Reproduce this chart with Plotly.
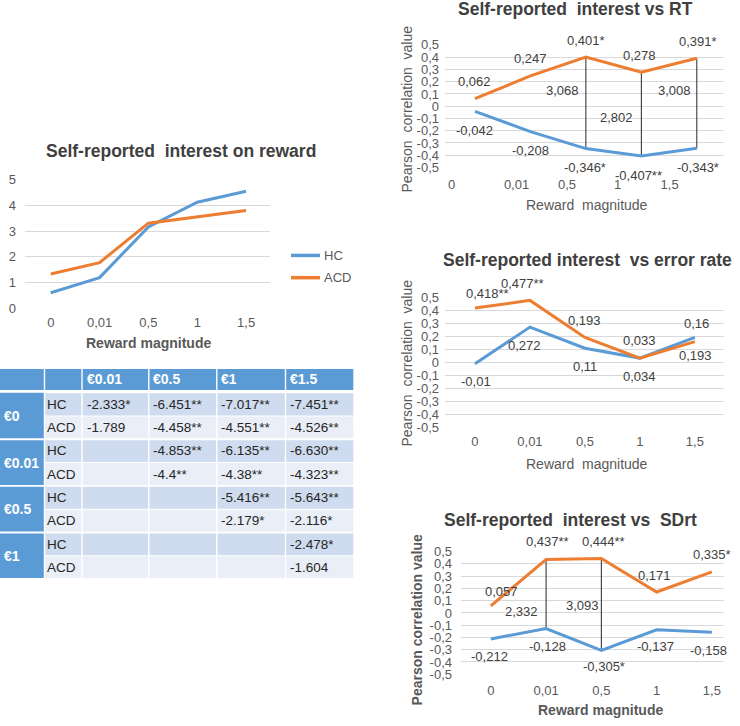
import plotly.graph_objects as go

W, H = 740, 726
FONT = "Liberation Sans, Arial, sans-serif"
BLUE = "#5b9bd5"
ORANGE = "#ed7d31"
GRID = "#d9d9d9"
TXT = "#595959"
DARK = "#404040"

# ---------------- data ----------------
reward_labels = ["0", "0,01", "0,5", "1", "1,5"]
series_names = ["HC", "ACD"]

interest_hc = [0.61, 1.2, 3.16, 4.12, 4.55]
interest_acd = [1.34, 1.78, 3.31, 3.55, 3.8]
interest_ticks = [0, 1, 2, 3, 4, 5]

corr_ticks = [0.5, 0.4, 0.3, 0.2, 0.1, 0, -0.1, -0.2, -0.3, -0.4, -0.5]
corr_tick_text = ["0,5", "0,4", "0,3", "0,2", "0,1", "0", "-0,1", "-0,2", "-0,3", "-0,4", "-0,5"]

rt_hc = [-0.042, -0.208, -0.346, -0.407, -0.343]
rt_acd = [0.062, 0.247, 0.401, 0.278, 0.391]
rt_hc_labels = ["-0,042", "-0,208", "-0,346*", "-0,407**", "-0,343*"]
rt_acd_labels = ["0,062", "0,247", "0,401*", "0,278", "0,391*"]
rt_t_index = [2, 3, 4]
rt_t_labels = ["3,068", "2,802", "3,008"]

err_hc = [-0.01, 0.272, 0.11, 0.034, 0.193]
err_acd = [0.418, 0.477, 0.193, 0.033, 0.16]
err_hc_labels = ["-0,01", "0,272", "0,11", "0,034", "0,193"]
err_acd_labels = ["0,418**", "0,477**", "0,193", "0,033", "0,16"]

sd_hc = [-0.212, -0.128, -0.305, -0.137, -0.158]
sd_acd = [0.057, 0.437, 0.444, 0.171, 0.335]
sd_hc_labels = ["-0,212", "-0,128", "-0,305*", "-0,137", "-0,158"]
sd_acd_labels = ["0,057", "0,437**", "0,444**", "0,171", "0,335*"]
sd_t_index = [1, 2]
sd_t_labels = ["2,332", "3,093"]

table_cols = ["€0.01", "€0.5", "€1", "€1.5"]
table_rows = ["€0", "€0.01", "€0.5", "€1"]
table_hc = [["-2.333*", "-6.451**", "-7.017**", "-7.451**"],
            ["", "-4.853**", "-6.135**", "-6.630**"],
            ["", "", "-5.416**", "-5.643**"],
            ["", "", "", "-2.478*"]]
table_acd = [["-1.789", "-4.458**", "-4.551**", "-4.526**"],
             ["", "-4.4**", "-4.38**", "-4.323**"],
             ["", "", "-2.179*", "-2.116*"],
             ["", "", "", "-1.604"]]


def px(x):
    return x / W


def py(y):
    return 1 - y / H


fig = go.Figure()
shapes = []
annotations = []

# ---------------- panels (pixel layout) ----------------
idx = list(range(len(reward_labels)))
panels = [
    dict(hc=interest_hc, acd=interest_acd, x=(25, 270), y=(175.7, 307.7),
         xr=[-0.527, 4.49], yr=[-0.01, 5.01], ytv=interest_ticks,
         ytt=[str(v) for v in interest_ticks], xtv=idx, xstand=4, ystand=8),
    dict(hc=rt_hc, acd=rt_acd, x=(445, 724), y=(38.3, 164),
         xr=[-0.54, 4.49], yr=[-0.503, 0.503], ytv=corr_ticks, ytt=corr_tick_text,
         xtv=[i + s for i, s in zip(idx, [-0.42, -0.25, -0.34, -0.43, -0.49])],
         xstand=7, ystand=5),
    dict(hc=err_hc, acd=err_acd, x=(445, 724), y=(295.7, 429.3),
         xr=[-0.545, 4.53], yr=[-0.503, 0.503], ytv=corr_ticks, ytt=corr_tick_text,
         xtv=idx, xstand=4, ystand=5),
    dict(hc=sd_hc, acd=sd_acd, x=(461, 724), y=(555, 680.7),
         xr=[-0.54, 4.22], yr=[-0.503, 0.503], ytv=corr_ticks, ytt=corr_tick_text,
         xtv=idx, xstand=6, ystand=8),
]

layout_axes = {}
for k, p in enumerate(panels):
    sfx = "" if k == 0 else str(k + 1)
    xa, ya = "x" + sfx, "y" + sfx
    layout_axes["xaxis" + sfx] = dict(
        domain=[px(p["x"][0]), px(p["x"][1])], range=p["xr"], anchor=ya,
        tickmode="array", tickvals=p["xtv"], ticktext=reward_labels,
        showgrid=False, zeroline=False, showline=False, ticks="",
        tickfont=dict(family=FONT, size=13, color=TXT), ticklabelstandoff=p["xstand"],
        fixedrange=True)
    layout_axes["yaxis" + sfx] = dict(
        domain=[py(p["y"][1]), py(p["y"][0])], range=p["yr"], anchor=xa,
        tickmode="array", tickvals=p["ytv"], ticktext=p["ytt"],
        showgrid=True, gridcolor=GRID, gridwidth=1, zeroline=False, showline=False,
        ticks="", tickfont=dict(family=FONT, size=13, color=TXT),
        ticklabelstandoff=p["ystand"], fixedrange=True)
    p["xa"], p["ya"] = xa, ya

# connector lines (t values)
for k, (tidx, hc, acd) in {1: (rt_t_index, rt_hc, rt_acd), 3: (sd_t_index, sd_hc, sd_acd)}.items():
    xs, ys = [], []
    for i in tidx:
        xs += [i, i, None]
        ys += [acd[i], hc[i], None]
    fig.add_trace(go.Scatter(x=xs, y=ys, mode="lines", line=dict(color="#262626", width=1),
                             xaxis=panels[k]["xa"], yaxis=panels[k]["ya"],
                             showlegend=False, hoverinfo="skip"))

for p in panels:
    for name, vals, col in [(series_names[0], p["hc"], BLUE), (series_names[1], p["acd"], ORANGE)]:
        fig.add_trace(go.Scatter(x=idx, y=vals, mode="lines", name=name,
                                 line=dict(color=col, width=3), xaxis=p["xa"], yaxis=p["ya"],
                                 showlegend=False))


def label_set(p, vals, labels, ysh, xsh):
    for i, (v, t) in enumerate(zip(vals, labels)):
        annotations.append(dict(x=i, y=v, xref=p["xa"], yref=p["ya"], text=t, showarrow=False,
                                yshift=ysh[i], xshift=xsh[i],
                                font=dict(family=FONT, size=13, color=DARK)))


label_set(panels[1], rt_acd, rt_acd_labels, [17] * 5, [0, 0, 0, -2, 1])
label_set(panels[1], rt_hc, rt_hc_labels, [-19] * 5, [0, 0, -1, -3, 1])
label_set(panels[2], err_acd, err_acd_labels, [15, 17, 17, 18, 18], [13, -7, 0, 0, 2])
label_set(panels[2], err_hc, err_hc_labels, [-18] * 5, [1, -5, 0, 0, 1])
label_set(panels[3], sd_acd, sd_acd_labels, [14, 18, 17, 16, 17], [11, 1, 2, -2, 0])
label_set(panels[3], sd_hc, sd_hc_labels, [-18, -18, -16, -17, -18], [-1, 1, 3, -1, -3])

# t-value labels beside connector lines
for tidx, labs, ypos, xsh, k in [(rt_t_index, rt_t_labels, [0.127, -0.093, 0.127], [-5, -6, -4], 1),
                                 (sd_t_index, sd_t_labels, [0.008, 0.061], [-6, 0], 3)]:
    for i, t, yv, xs_ in zip(tidx, labs, ypos, xsh):
        annotations.append(dict(x=i, y=yv, xref=panels[k]["xa"], yref=panels[k]["ya"], text=t,
                                showarrow=False, xanchor="right", xshift=xs_,
                                font=dict(family=FONT, size=13, color=DARK)))


def text(x, y, t, size=13, color=DARK, bold=False, angle=0, xanchor="center"):
    annotations.append(dict(x=px(x), y=py(y), xref="paper", yref="paper",
                            text=f"<b>{t}</b>" if bold else t, showarrow=False,
                            textangle=angle, xanchor=xanchor, yanchor="middle",
                            font=dict(family=FONT, size=size, color=color)))


# titles
text(181, 146.5, "Self-reported  interest on reward", 17.5, DARK, True)
text(575, 2, "Self-reported  interest vs RT", 17.5, DARK, True)
text(587, 258, "Self-reported interest  vs error rate", 17.5, DARK, True)
text(570, 523.5, "Self-reported  interest vs  SDrt", 17.5, DARK, True)

# axis titles
text(148, 342.5, "Reward magnitude", 14, TXT, True)
text(587, 201.5, "Reward  magnitude", 14, TXT)
text(587, 466, "Reward  magnitude", 14, TXT)
text(600, 717, "Reward magnitude", 14, TXT, True)
text(406.5, 104, "Pearson  correlation  value", 14, TXT, angle=-90)
text(406.5, 363, "Pearson  correlation  value", 14, TXT, angle=-90)
text(416.5, 625, "Pearson correlation value", 14, TXT, True, angle=-90)

# legend (manual)
for j, (name, col) in enumerate([(series_names[0], BLUE), (series_names[1], ORANGE)]):
    yy = 253.3 + j * 22.7
    shapes.append(dict(type="line", xref="paper", yref="paper", x0=px(291), x1=px(320),
                       y0=py(yy), y1=py(yy), line=dict(color=col, width=3.5)))
    text(321.5, yy, name, 13, TXT, xanchor="left")

# ---------------- table ----------------
HEAD_C = "#5b9bd5"
BAND_HC = "#cfdbee"
BAND_ACD = "#e9eef7"
col_w = [44.5, 37.5, 66.8, 68, 68.7, 68.5]
col_x = [0]
for w_ in col_w:
    col_x.append(col_x[-1] + w_)
head_top, head_bot = 369, 390.5
body_top, sub_h = 393.3, 23.75


def rect(x0, y0, x1, y1, color):
    shapes.append(dict(type="rect", xref="paper", yref="paper", x0=px(x0), x1=px(x1),
                       y0=py(y1), y1=py(y0), fillcolor=color, line=dict(width=0), layer="above"))


for c in range(6):
    rect(col_x[c] + (0 if c == 0 else 0.7), head_top, col_x[c + 1] - 0.7, head_bot, HEAD_C)
for c, lab in enumerate(table_cols):
    text(col_x[c + 2] + 2.5, (head_top + head_bot) / 2, lab, 14, "white", True, xanchor="left")

for g, glab in enumerate(table_rows):
    gy0 = body_top + 2 * g * sub_h
    rect(0, gy0 + (1 if g else 0), col_x[1] - 0.7, gy0 + 2 * sub_h - 1, HEAD_C)
    text(1.5, gy0 + sub_h, glab, 14, "white", True, xanchor="left")
    for s, (sname, rowvals, band) in enumerate([(series_names[0], table_hc[g], BAND_HC),
                                                (series_names[1], table_acd[g], BAND_ACD)]):
        ry0 = gy0 + s * sub_h
        ry1 = ry0 + sub_h
        for c in range(1, 6):
            rect(col_x[c] + 0.7, ry0 + (1 if s == 0 and g else 0.5), col_x[c + 1] - 0.7,
                 ry1 - (1 if s == 1 else 0.5), band)
        text(col_x[1] + 0.8, (ry0 + ry1) / 2, sname, 13.5, "#262626", xanchor="left")
        for c, v in enumerate(rowvals):
            if v:
                text(col_x[c + 2] + 2.5, (ry0 + ry1) / 2, v, 13.5, "#262626", xanchor="left")

fig.update_layout(width=W, height=H, margin=dict(l=0, r=0, t=0, b=0),
                  paper_bgcolor="white", plot_bgcolor="white", showlegend=False,
                  shapes=shapes, annotations=annotations, font=dict(family=FONT), **layout_axes)
fig.write_html("out.html", config={"displayModeBar": False},
               post_script="document.body.style.margin='0px';document.body.style.overflow='hidden';")
